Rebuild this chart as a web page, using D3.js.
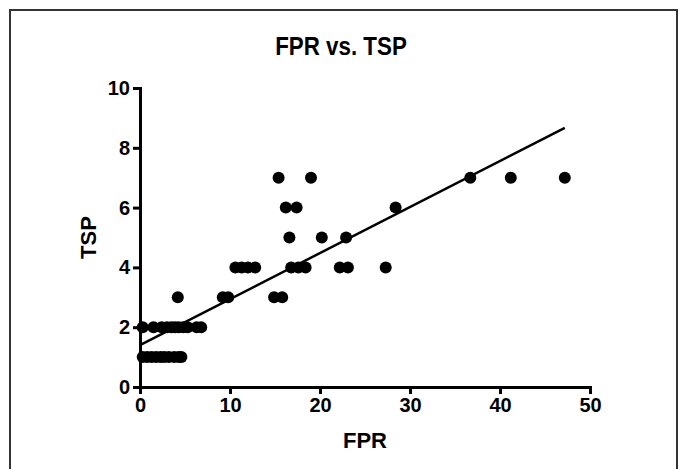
<!DOCTYPE html>
<html>
<head>
<meta charset="utf-8">
<script src="https://cdn.jsdelivr.net/npm/d3@7"></script>
<style>
  body { margin: 0; background: #fff; }
  svg text { font-family: "Liberation Sans", Arial, sans-serif; font-weight: bold; fill: #000; }
  .axis path, .axis line { stroke: #000; stroke-width: 3px; }
  .axis text { font-size: 20px; }
</style>
</head>
<body>
<svg id="chart"></svg>
<script>
// FPR values grouped by TSP level
const tsp1 = [0.3, 0.8, 1.3, 1.8, 2.3, 2.7, 3.2, 3.8, 4.3, 4.6];
const tsp2 = [0.3, 1.5, 2.4, 3.0, 3.5, 3.9, 4.3, 4.8, 5.3, 6.3, 6.8];
const tsp3 = [4.2, 9.2, 9.8, 14.9, 15.8];
const tsp4 = [10.6, 11.3, 12.0, 12.8, 16.8, 17.6, 18.4, 22.2, 23.1, 27.3];
const tsp5 = [16.6, 20.2, 22.9];
const tsp6 = [16.2, 17.4, 28.4];
const tsp7 = [15.4, 19.0, 36.7, 41.2, 47.2];

const xTicks = [0, 10, 20, 30, 40, 50];
const yTicks = [0, 2, 4, 6, 8, 10];

// linear fit
const fitIntercept = 1.40;
const fitSlope = 0.154;
const fitRange = [0, 47.2];

const groups = [tsp1, tsp2, tsp3, tsp4, tsp5, tsp6, tsp7];
const points = [];
groups.forEach((g, i) => g.forEach(x => points.push({fpr: x, tsp: i + 1})));

const width = 684, height = 469;
const margin = {top: 88, right: 94, bottom: 82, left: 140};
const innerW = width - margin.left - margin.right;
const innerH = height - margin.top - margin.bottom;

const svg = d3.select('#chart')
    .attr('width', width)
    .attr('height', height);

// frame
svg.append('rect')
    .attr('x', 10)
    .attr('y', 10)
    .attr('width', 667)
    .attr('height', 470)
    .attr('fill', 'none')
    .attr('stroke', '#333')
    .attr('stroke-width', 2);

const chart = svg.append('g')
    .attr('transform', `translate(${margin.left},${margin.top})`);

const xScale = d3.scaleLinear().domain([0, 50]).range([0, innerW]);
const yScale = d3.scaleLinear().domain([0, 10]).range([innerH, 0]);

chart.append('g')
    .attr('class', 'axis x-axis')
    .attr('transform', `translate(0,${innerH})`)
    .call(d3.axisBottom(xScale).tickValues(xTicks).tickSizeOuter(0).tickSize(7).tickPadding(4));

chart.append('g')
    .attr('class', 'axis y-axis')
    .call(d3.axisLeft(yScale).tickValues(yTicks).tickSizeOuter(0).tickSize(7).tickPadding(3));

// fit line
chart.append('line')
    .attr('x1', xScale(fitRange[0]))
    .attr('y1', yScale(fitIntercept + fitSlope * fitRange[0]))
    .attr('x2', xScale(fitRange[1]))
    .attr('y2', yScale(fitIntercept + fitSlope * fitRange[1]))
    .attr('stroke', '#000')
    .attr('stroke-width', 2.5);

chart.selectAll('.point')
    .data(points)
    .join('circle')
    .attr('class', 'point')
    .attr('cx', d => xScale(d.fpr))
    .attr('cy', d => yScale(d.tsp))
    .attr('r', 6)
    .attr('fill', '#000');

// title (squeezed a bit, the original uses a narrow face)
svg.append('text')
    .attr('transform', 'translate(341,55) scale(0.86,1)')
    .attr('text-anchor', 'middle')
    .style('font-size', '26px')
    .text('FPR vs. TSP');

// axis labels
svg.append('text')
    .attr('x', margin.left + innerW / 2)
    .attr('y', 448)
    .attr('text-anchor', 'middle')
    .style('font-size', '22px')
    .text('FPR');

svg.append('text')
    .attr('transform', 'rotate(-90)')
    .attr('x', -(margin.top + innerH / 2))
    .attr('y', 96)
    .attr('text-anchor', 'middle')
    .style('font-size', '22px')
    .text('TSP');
</script>
</body>
</html>
